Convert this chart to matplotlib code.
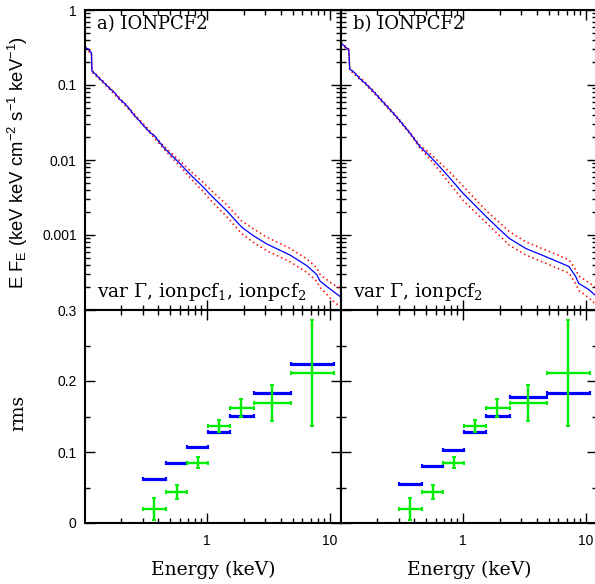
import numpy as np
import matplotlib
matplotlib.use("Agg")
import matplotlib.pyplot as plt
from matplotlib.ticker import FixedLocator, FixedFormatter, NullFormatter, LogLocator

plt.rcParams['mathtext.rm'] = 'Liberation Sans'
plt.rcParams['mathtext.it'] = 'Liberation Sans:italic'
plt.rcParams['mathtext.bf'] = 'Liberation Sans:bold'

# ---------------- data: spectra (panel a) ----------------
E_a = [0.101, 0.108, 0.114, 0.115, 0.121, 0.133, 0.146, 0.161, 0.176, 0.193, 0.212,
       0.233, 0.256, 0.282, 0.309, 0.34, 0.373, 0.41, 0.45, 0.53, 0.60, 0.655, 0.76,
       0.927, 1.06, 1.45, 1.92, 2.39, 3.07, 4.76, 6.52, 7.87, 8.36, 8.9, 10.5, 12.4]
F_a = [0.318, 0.300, 0.268, 0.153, 0.143, 0.122, 0.105, 0.090, 0.079, 0.065, 0.057,
       0.048, 0.039, 0.033, 0.0278, 0.0235, 0.0210, 0.0172, 0.0143, 0.0110, 0.0090,
       0.0077, 0.0060, 0.0044, 0.00347, 0.0021, 0.00127, 0.00098, 0.00076, 0.00054,
       0.00039, 0.000296, 0.000243, 0.000223, 0.000182, 0.000148]
Er_a = [0.101, 0.114, 0.115, 0.146, 0.193, 0.256, 0.34, 0.45, 0.6, 0.76, 0.927, 1.06,
        1.45, 1.92, 2.39, 3.07, 4.76, 6.52, 7.87, 8.36, 8.9, 10.5, 12.4]
Fup_a = [0.327, 0.275, 0.157, 0.108, 0.068, 0.041, 0.0247, 0.0150, 0.00976, 0.00673,
         0.00505, 0.00408, 0.00252, 0.00154, 0.00121, 0.000935, 0.000664, 0.00048,
         0.000364, 0.000299, 0.000274, 0.000224, 0.000190]
Flo_a = [0.309, 0.261, 0.149, 0.102, 0.064, 0.039, 0.0233, 0.0137, 0.0083, 0.00535,
         0.00383, 0.00295, 0.00175, 0.00104, 0.000797, 0.000618, 0.000439, 0.000317,
         0.000241, 0.000198, 0.000181, 0.000135, 0.000108]

# ---------------- data: spectra (panel b) ----------------
E_b = [0.101, 0.108, 0.117, 0.119, 0.128, 0.145, 0.16, 0.187, 0.215, 0.255, 0.285,
       0.317, 0.37, 0.446, 0.53, 0.647, 0.8, 1.0, 1.55, 1.95, 2.39, 3.26, 4.74, 7.32,
       8.3, 8.8, 10.5, 12.4]
F_b = [0.36, 0.33, 0.293, 0.162, 0.150, 0.120, 0.105, 0.081, 0.063, 0.0465, 0.038,
       0.031, 0.0227, 0.015, 0.0115, 0.0081, 0.0055, 0.0036, 0.00175, 0.00122, 0.0009,
       0.00066, 0.000514, 0.00038, 0.00028, 0.000226, 0.00019, 0.00015]
Er_b = [0.101, 0.117, 0.119, 0.16, 0.215, 0.285, 0.37, 0.446, 0.53, 0.647, 0.8, 1.0,
        1.55, 2.39, 3.26, 4.74, 7.32, 8.3, 8.8, 10.5, 12.4]
Fup_b = [0.37, 0.301, 0.166, 0.108, 0.065, 0.039, 0.0233, 0.0157, 0.0125, 0.0092,
         0.0066, 0.0045, 0.0021, 0.00111, 0.00081, 0.00063, 0.000467, 0.000345,
         0.000285, 0.000235, 0.000195]
Flo_b = [0.35, 0.285, 0.158, 0.102, 0.061, 0.037, 0.0221, 0.0143, 0.0106, 0.0071,
         0.0046, 0.0029, 0.00145, 0.00073, 0.00054, 0.00042, 0.00031, 0.000225,
         0.000182, 0.000148, 0.000115]

# ---------------- data: rms spectra ----------------
bin_lo = [0.30, 0.46, 0.69, 1.02, 1.53, 2.40, 4.84]
bin_hi = [0.46, 0.69, 1.02, 1.53, 2.40, 4.84, 10.9]
bin_c = [0.372, 0.57, 0.845, 1.25, 1.89, 3.41, 7.2]
rms_data = [0.0197, 0.0436, 0.0849, 0.1369, 0.1617, 0.1695, 0.2114]
rms_err = [0.015, 0.010, 0.008, 0.0084, 0.013, 0.0255, 0.075]
rms_model_a = [0.0619, 0.0844, 0.1069, 0.128, 0.1514, 0.1824, 0.224]
rms_model_b = [0.0549, 0.0806, 0.1027, 0.1275, 0.151, 0.1772, 0.1838]

panel_titles = ['a) IONPCF2', 'b) IONPCF2']
panel_notes = [r'var $\Gamma$, ionpcf$_1$, ionpcf$_2$', r'var $\Gamma$, ionpcf$_2$']

XLIM = (0.101, 12.4)
W, H = 595, 584
fig = plt.figure(figsize=(W / 100, H / 100), dpi=100)

def frac(x0, y0, x1, y1):
    return [x0 / W, 1 - y1 / H, (x1 - x0) / W, (y1 - y0) / H]

ax_top = [fig.add_axes(frac(85, 10, 341, 310)), fig.add_axes(frac(341, 10, 597, 310))]
ax_bot = [fig.add_axes(frac(85, 310, 341, 523)), fig.add_axes(frac(341, 310, 597, 523))]

tickfont = dict(family='Liberation Sans', size=10)

def style(ax):
    for s in ax.spines.values():
        s.set_linewidth(1.5)
    ax.tick_params(which='both', direction='in', top=True, right=True, width=1.0)
    ax.tick_params(which='major', length=7.5, pad=6)
    ax.tick_params(which='minor', length=3.8)
    ax.set_xscale('log')
    ax.set_xlim(*XLIM)
    ax.xaxis.set_major_locator(FixedLocator([1, 10]))
    ax.xaxis.set_minor_locator(LogLocator(base=10, subs=np.arange(2, 10)))
    ax.xaxis.set_minor_formatter(NullFormatter())

spectra = [(E_a, F_a, Er_a, Fup_a, Flo_a), (E_b, F_b, Er_b, Fup_b, Flo_b)]
models = [rms_model_a, rms_model_b]

for i in range(2):
    ax = ax_top[i]
    E, F, Er, Fu, Fl = spectra[i]
    ax.plot(Er, Fu, color='#ff0000', lw=1.1, ls=(0, (1, 2.0)))
    ax.plot(Er, Fl, color='#ff0000', lw=1.1, ls=(0, (1, 2.0)))
    ax.plot(E, F, color='#0000ff', lw=0.9)
    ax.set_yscale('log')
    ax.set_ylim(1e-4, 1)
    style(ax)
    ax.yaxis.set_major_locator(FixedLocator([1e-4, 1e-3, 1e-2, 0.1, 1]))
    ax.yaxis.set_minor_locator(LogLocator(base=10, subs=np.arange(2, 10)))
    ax.yaxis.set_minor_formatter(NullFormatter())
    if i == 0:
        ax.yaxis.set_major_formatter(FixedFormatter(['', '0.001', '0.01', '0.1', '1']))
    else:
        ax.tick_params(labelleft=False)
    ax.tick_params(labelbottom=False)
    for lab in ax.get_yticklabels():
        lab.set_fontfamily(tickfont['family']); lab.set_fontsize(tickfont['size'])
    ax.text(0.047, 0.953, panel_titles[i], transform=ax.transAxes, family='DejaVu Serif',
            size=13, va='center', ha='left')
    ax.text(0.047, 0.043, panel_notes[i], transform=ax.transAxes, family='DejaVu Serif',
            math_fontfamily='dejavuserif', size=13.5, va='baseline', ha='left')

for i in range(2):
    ax = ax_bot[i]
    xl = [c - lo for c, lo in zip(bin_c, bin_lo)]
    xh = [hi - c for c, hi in zip(bin_c, bin_hi)]
    ax.errorbar(bin_c, models[i], xerr=[xl, xh], fmt='none', ecolor='#0000ff',
                elinewidth=2.3, capsize=1.7, capthick=1.6)
    ax.errorbar(bin_c, rms_data, xerr=[xl, xh], yerr=rms_err, fmt='none', ecolor='#00ee00',
                elinewidth=1.7, capsize=1.7, capthick=1.4)
    ax.set_ylim(0, 0.3)
    style(ax)
    ax.yaxis.set_major_locator(FixedLocator([0, 0.1, 0.2, 0.3]))
    ax.yaxis.set_minor_locator(FixedLocator([0.05, 0.15, 0.25]))
    ax.xaxis.set_major_formatter(FixedFormatter(['1', '10']))
    if i == 0:
        ax.yaxis.set_major_formatter(FixedFormatter(['0', '0.1', '0.2', '0.3']))
    else:
        ax.tick_params(labelleft=False)
    ax.tick_params(axis='x', pad=8)
    for lab in ax.get_xticklabels() + ax.get_yticklabels():
        lab.set_fontfamily(tickfont['family']); lab.set_fontsize(tickfont['size'])

fig.text(18 / W, 1 - 163 / H, r'E F$_{\rm E}$ (keV keV cm$^{-2}$ s$^{-1}$ keV$^{-1}$)',
         rotation=90, family='Liberation Sans', math_fontfamily='custom', size=13.3,
         ha='center', va='center')
fig.text(18 / W, 1 - 413 / H, 'rms', rotation=90, family='DejaVu Serif', size=13.5,
         ha='center', va='center')
fig.text(213 / W, 1 - 570 / H, 'Energy (keV)', family='DejaVu Serif', size=13.5,
         ha='center', va='center')
fig.text(469 / W, 1 - 570 / H, 'Energy (keV)', family='DejaVu Serif', size=13.5,
         ha='center', va='center')

fig.savefig('out.png', dpi=100)
